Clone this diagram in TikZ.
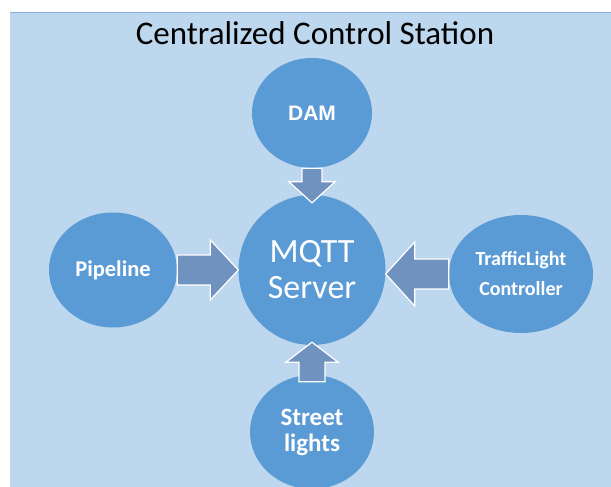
\documentclass[tikz,border=0pt]{standalone}
\usepackage{fontspec}
\setmainfont{Carlito}
\newfontfamily\arialfont{Liberation Sans}
\usetikzlibrary{shapes.geometric,calc}
\definecolor{azulfundo}{HTML}{BDD7EE}
\definecolor{azulborda}{HTML}{8EAADB}
\definecolor{azulbola}{HTML}{5B9BD5}
\definecolor{azulseta}{HTML}{7092BE}
\begin{document}
\begin{tikzpicture}[x=1pt,y=1pt,
  bola/.style={ellipse, fill=azulbola, text=white, inner sep=0pt, align=center},
  setab/.style={fill=azulseta, draw=white, line width=1.2pt, line join=miter}]
\newcommand{\seta}[5]{%
 \coordinate (hb) at ($(#2)!#5!(#1)$);
 \filldraw[setab] ($(#1)!#3!90:(#2)$)--($(hb)!#3!90:(#2)$)--($(hb)!#4!90:(#2)$)--(#2)
   --($(hb)!#4!-90:(#2)$)--($(hb)!#3!-90:(#2)$)--($(#1)!#3!-90:(#2)$)--cycle;}
\useasboundingbox (0,0) rectangle (611,487);
\fill[azulfundo] (10,0) rectangle (611,475);
\draw[azulborda, line width=0.8pt] (10,475)--(611,475);
\node[anchor=base, font={\fontsize{33}{35}\selectfont}] (titulo) at (315,442) {Centralized Control Station};
% bolas
\node[bola, minimum width=147, minimum height=150, font={\fontsize{34}{36}\selectfont}]
  (mqtt) at (312,217) {MQTT\\Server};
\node[bola, minimum width=120, minimum height=110, font={\arialfont\bfseries\fontsize{21}{24}\selectfont}]
  (dam) at (312,374) {DAM};
\node[bola, minimum width=128, minimum height=115, font={\bfseries\fontsize{22.5}{24}\selectfont}]
  (pipe) at (113,217) {Pipeline};
\node[bola, minimum width=144, minimum height=118, font={\bfseries\fontsize{20}{30}\selectfont}]
  (traffic) at (521,213) {TrafficLight\\Controller};
\node[bola, minimum width=124, minimum height=114, font={\bfseries\fontsize{25}{26}\selectfont}]
  (street) at (312,55) {Street\\lights};
% setas
\coordinate (dt) at ($(mqtt.north)+(0,-8)$);
\coordinate (tt) at (mqtt.east |- traffic.west);
\coordinate (ss) at ($(street.north)+(0,-7)$);
\coordinate (st) at ($(mqtt.south)+(0,3)$);
\seta{dam.south}{dt}{10pt}{23pt}{21pt}
\seta{pipe.east}{mqtt.west}{15pt}{30pt}{28pt}
\seta{traffic.west}{tt}{15pt}{32pt}{29pt}
\seta{ss}{st}{13pt}{26pt}{20pt}
\end{tikzpicture}
\end{document}
